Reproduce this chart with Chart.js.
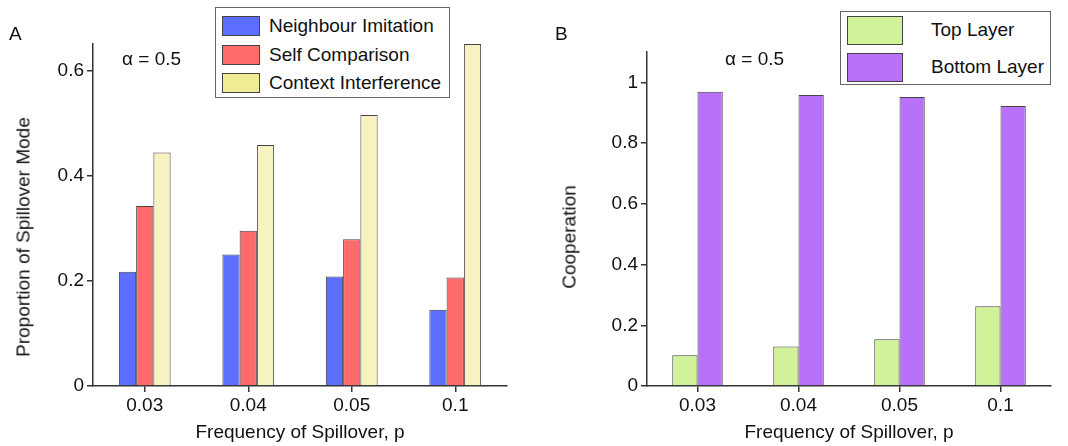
<!DOCTYPE html>
<html>
<head>
<meta charset="utf-8">
<script src="https://cdn.jsdelivr.net/npm/chart.js@4.4.1/dist/chart.umd.min.js"></script>
<style>
  body { margin: 0; background: #fff; font-family: Arial, "Liberation Sans", sans-serif; }
  #wrap { position: relative; width: 1068px; height: 446px; }
  .panel { position: absolute; top: 0; width: 534px; height: 446px; }
  .txt { position: absolute; font-size: 19px; color: #111; white-space: nowrap; line-height: 1; }
  .ytitle { position: absolute; font-size: 19px; color: #111; white-space: nowrap; line-height: 1;
            transform: translate(-50%, -50%) rotate(-90deg); }
  .legend { position: absolute; border: 1.5px solid #666; background: #fff; box-sizing: border-box; }
  .legend .row { position: absolute; display: flex; align-items: center; }
  .legend .sw { border: 1.5px solid #444; box-sizing: border-box; }
  .legend .lab { font-size: 19px; color: #111; white-space: nowrap; }
</style>
</head>
<body>
<div id="wrap">
  <div class="panel" style="left:0"><canvas id="chartA" width="534" height="446"></canvas></div>
  <div class="panel" style="left:534px"><canvas id="chartB" width="534" height="446"></canvas></div>
  <div class="txt" style="left:9px;top:24px">A</div>
  <div class="txt" style="left:555px;top:24px">B</div>
  <div class="txt" style="left:122px;top:49px">α = 0.5</div>
  <div class="txt" style="left:725px;top:49px">α = 0.5</div>
  <div class="ytitle" style="left:23px;top:237px">Proportion of Spillover Mode</div>
  <div class="ytitle" style="left:569px;top:237px">Cooperation</div>
  <div class="legend" id="legendA" style="left:215px;top:7px;width:235px;height:91px"></div>
  <div class="legend" id="legendB" style="left:840px;top:11px;width:211px;height:74px"></div>
</div>
<script>
// Data
const categories = ["0.03", "0.04", "0.05", "0.1"];

const neighbourImitation = [0.217, 0.250, 0.208, 0.145];
const selfComparison = [0.342, 0.295, 0.279, 0.206];
const contextInterference = [0.444, 0.458, 0.515, 0.650];

const topLayer = [0.101, 0.130, 0.154, 0.263];
const bottomLayer = [0.969, 0.958, 0.952, 0.922];

const ticksA = [0, 0.2, 0.4, 0.6];
const ticksB = [0, 0.2, 0.4, 0.6, 0.8, 1];

const FONT = { family: "Arial, 'Liberation Sans', sans-serif", size: 19 };
const AXIS = "#333";

// Shared axes setup (y titles are drawn as html text, see above)
function makeScales(yMax, yTicks, yWidth) {
  return {
    x: {
      offset: true,
      grid: { display: true, drawOnChartArea: false, tickLength: 6, color: AXIS, lineWidth: 1.5, offset: false },
      border: { color: AXIS, width: 1.5 },
      ticks: { font: FONT, color: "#111", padding: 2 },
      title: { display: true, text: "Frequency of Spillover, p", font: FONT, color: "#111", padding: { top: 0, bottom: 2 } },
      afterFit: (axis) => { axis.height = 60; },
    },
    y: {
      min: 0,
      max: yMax,
      grid: { display: true, drawOnChartArea: false, tickLength: 6, color: AXIS, lineWidth: 1.5 },
      border: { color: AXIS, width: 1.5 },
      afterBuildTicks: (axis) => { axis.ticks = yTicks.map((v) => ({ value: v })); },
      ticks: { font: FONT, color: "#111", padding: 3, callback: (v) => String(v) },
      afterFit: (axis) => { axis.width = yWidth; },
    },
  };
}

function makeDataset(label, data, color) {
  return {
    label: label,
    data: data,
    backgroundColor: color,
    borderColor: "#444",
    borderWidth: 1,
    categoryPercentage: 0.5,
    barPercentage: 1.0,
  };
}

const commonOptions = {
  responsive: false,
  animation: false,
  plugins: { legend: { display: false }, tooltip: { enabled: false } },
};

// Panel A
new Chart(document.getElementById("chartA"), {
  type: "bar",
  data: {
    labels: categories,
    datasets: [
      makeDataset("Neighbour Imitation", neighbourImitation, "#5b6eff"),
      makeDataset("Self Comparison", selfComparison, "#ff6b6b"),
      makeDataset("Context Interference", contextInterference, "#f6f3c1"),
    ],
  },
  options: {
    ...commonOptions,
    layout: { padding: { top: 44, right: 27, bottom: 0, left: 0 } },
    scales: makeScales(0.65, ticksA, 93),
  },
});

// Panel B
new Chart(document.getElementById("chartB"), {
  type: "bar",
  data: {
    labels: categories,
    datasets: [
      makeDataset("Top Layer", topLayer, "#d2f29a"),
      makeDataset("Bottom Layer", bottomLayer, "#b872fa"),
    ],
  },
  options: {
    ...commonOptions,
    layout: { padding: { top: 52, right: 17, bottom: 0, left: 0 } },
    scales: makeScales(1.1, ticksB, 113),
  },
});

// HTML legends built from the series names / swatch colours
function buildLegend(el, items, sw, rowStep, rowTop, textLeft) {
  items.forEach((item, i) => {
    const row = document.createElement("div");
    row.className = "row";
    row.style.left = "6px";
    row.style.top = rowTop + i * rowStep + "px";
    row.innerHTML =
      `<div class="sw" style="width:${sw[0]}px;height:${sw[1]}px;background:${item.color}"></div>` +
      `<div class="lab" style="margin-left:${textLeft}px">${item.label}</div>`;
    el.appendChild(row);
  });
}

buildLegend(
  document.getElementById("legendA"),
  [
    { label: "Neighbour Imitation", color: "#5b6eff" },
    { label: "Self Comparison", color: "#ff6b6b" },
    { label: "Context Interference", color: "#f0ec96" },
  ],
  [38, 20], 28.5, 7, 9
);

buildLegend(
  document.getElementById("legendB"),
  [
    { label: "Top Layer", color: "#d2f29a" },
    { label: "Bottom Layer", color: "#b872fa" },
  ],
  [56, 29], 37, 3.5, 28
);
</script>
</body>
</html>
